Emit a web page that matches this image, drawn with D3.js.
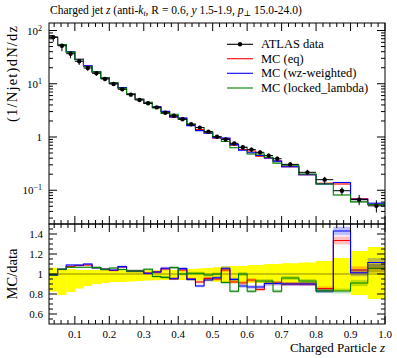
<!DOCTYPE html>
<html><head><meta charset="utf-8">
<script src="https://cdn.jsdelivr.net/npm/d3@7"></script>
<style>body{margin:0;background:#fff} svg text{font-family:"Liberation Serif","DejaVu Serif",serif;fill:#000}</style>
</head><body><svg id="c" width="397" height="358"></svg>
<script>
const zEdges = [0.025,0.05,0.075,0.1,0.125,0.15,0.175,0.2,0.225,0.25,0.275,0.3,0.325,0.35,0.375,0.4,0.425,0.45,0.475,0.5,0.525,0.55,0.575,0.6,0.625,0.65,0.675,0.7,0.75,0.8,0.85,0.9,0.95,1.0];
const dataVals = [75,51.8,36.7,26.4,19.8,15.7,12.3,9.9,7.87,6.24,4.95,4.3,3.6,2.86,2.51,2.15,1.73,1.50,1.26,1.01,0.90,0.76,0.64,0.58,0.515,0.447,0.39,0.306,0.217,0.158,0.098,0.0665,0.051];
const dataErrUp = [0.064,0.05,0.048,0.04,0.04,0.04,0.04,0.038,0.038,0.038,0.038,0.038,0.038,0.038,0.04,0.04,0.05,0.055,0.06,0.068,0.075,0.08,0.08,0.09,0.09,0.1,0.1,0.108,0.115,0.13,0.16,0.23,0.27];
const dataErrDn = [0.175,0.21,0.18,0.145,0.12,0.1,0.09,0.08,0.08,0.075,0.07,0.065,0.062,0.06,0.06,0.06,0.062,0.065,0.07,0.078,0.085,0.088,0.088,0.088,0.09,0.095,0.1,0.11,0.11,0.17,0.17,0.21,0.25];
const ratioEq = [0.99,1.047,1.074,1.085,1.09,1.064,1.047,1.035,1.07,1.03,1.03,1.007,1.02,1.05,0.953,1.04,0.95,0.92,0.956,0.95,1.04,0.92,0.91,0.94,0.845,0.905,0.91,0.9,0.9,0.855,1.335,1.04,1.058];
const ratioWz = [0.99,1.047,1.09,1.09,1.10,1.064,1.047,1.04,1.074,1.03,1.03,1.007,1.02,1.058,0.953,1.054,0.946,0.88,0.94,0.963,1.058,0.946,0.88,0.87,0.87,0.905,0.905,0.9,0.9,0.83,1.43,1.013,1.115];
const ratioLocked = [0.99,1.047,1.068,1.068,1.068,1.064,1.047,1.06,1.045,1.03,1.03,1.047,0.975,0.966,1.064,1.0,1.007,1.007,0.99,1.0,0.915,0.827,1.0,0.827,0.93,0.93,0.827,0.96,0.93,0.83,0.83,0.91,1.058];
const mcRelErr = [0.008,0.008,0.008,0.008,0.008,0.01,0.01,0.01,0.01,0.012,0.012,0.012,0.012,0.014,0.014,0.014,0.015,0.015,0.016,0.016,0.018,0.018,0.02,0.02,0.02,0.022,0.022,0.02,0.022,0.025,0.03,0.035,0.04];
const xTicks = [0.1,0.2,0.3,0.4,0.5,0.6,0.7,0.8,0.9,1.0];
const xTickLabels = ["0.1","0.2","0.3","0.4","0.5","0.6","0.7","0.8","0.9","1.0"];
const yRatioTicks = [0.6,0.8,1,1.2,1.4];
const yRatioLabels = ["0.6","0.8","1","1.2","1.4"];
const seriesNames = ["MC (eq)","MC (wz-weighted)","MC (locked_lambda)"];
const seriesColors = ["#ff0000","#0000ff","#008000"];
const seriesRatios = [ratioEq, ratioWz, ratioLocked];

const L = 49, R = 385, T = 23, MB = 224, RB = 324;
const svg = d3.select("#c");
const x = d3.scaleLinear().domain([0.025, 1.0]).range([L, R]);
const y = d3.scaleLog().domain([Math.pow(10,-1.634), Math.pow(10,2.141)]).range([MB, T]);
const yr = d3.scaleLinear().domain([0.5, 1.5]).range([RB, MB]);

const nb = dataVals.length;
const bins = d3.range(nb).map(i => ({lo: zEdges[i], hi: zEdges[i+1], c: (zEdges[i]+zEdges[i+1])/2}));

const defs = svg.append("defs");
defs.append("clipPath").attr("id","cm").append("rect").attr("x",L).attr("y",T).attr("width",R-L).attr("height",MB-T);
defs.append("clipPath").attr("id","cr").append("rect").attr("x",L).attr("y",MB).attr("width",R-L).attr("height",RB-MB);

function stepPath(vals, ys) {
  let p = "";
  vals.forEach((v,i) => {
    const x0 = x(zEdges[i]), x1 = x(zEdges[i+1]), yy = ys(v);
    p += (i===0 ? "M"+x0+","+yy : "V"+yy) + "H"+x1;
  });
  return p;
}

// ---- main panel
const gm = svg.append("g").attr("clip-path","url(#cm)");
seriesRatios.forEach((rat, s) => {
  const mc = rat.map((r,i) => r*dataVals[i]);
  gm.append("g").selectAll("rect").data(bins).join("rect")
    .attr("x", (b)=>x(b.lo)).attr("width",(b)=>x(b.hi)-x(b.lo))
    .attr("y",(b,i)=>y(mc[i]*(1+mcRelErr[i]))).attr("height",(b,i)=>y(mc[i]*(1-mcRelErr[i]))-y(mc[i]*(1+mcRelErr[i])))
    .attr("fill",seriesColors[s]).attr("opacity",0.25);
  gm.append("path").attr("d",stepPath(mc,y)).attr("fill","none").attr("stroke",seriesColors[s]).attr("stroke-width",1.1);
});
const gd = gm.append("g");
bins.forEach((b,i) => {
  const v = dataVals[i];
  gd.append("line").attr("x1",x(b.lo)).attr("x2",x(b.hi)).attr("y1",y(v)).attr("y2",y(v)).attr("stroke","#000").attr("stroke-width",1);
  gd.append("line").attr("x1",x(b.c)).attr("x2",x(b.c)).attr("y1",y(v*(1+dataErrUp[i]))).attr("y2",y(v*(1-dataErrDn[i]))).attr("stroke","#000").attr("stroke-width",1);
  gd.append("circle").attr("cx",x(b.c)).attr("cy",y(v)).attr("r",2.2).attr("fill","#000");
});

// ---- ratio panel
const gr = svg.append("g").attr("clip-path","url(#cr)");
gr.append("g").selectAll("rect").data(bins).join("rect")
  .attr("x",(b)=>x(b.lo)).attr("width",(b)=>x(b.hi)-x(b.lo)+0.3)
  .attr("y",(b,i)=>yr(1+dataErrUp[i])).attr("height",(b,i)=>yr(1-dataErrDn[i])-yr(1+dataErrUp[i]))
  .attr("fill","#ffff00");
gr.append("line").attr("x1",L).attr("x2",R).attr("y1",yr(1)).attr("y2",yr(1)).attr("stroke","#000").attr("stroke-opacity",0.45).attr("stroke-width",1);
seriesRatios.forEach((rat, s) => {
  gr.append("g").selectAll("rect").data(bins).join("rect")
    .attr("x",(b)=>x(b.lo)).attr("width",(b)=>x(b.hi)-x(b.lo))
    .attr("y",(b,i)=>yr(rat[i]*(1+mcRelErr[i]))).attr("height",(b,i)=>yr(rat[i]*(1-mcRelErr[i]))-yr(rat[i]*(1+mcRelErr[i])))
    .attr("fill",seriesColors[s]).attr("opacity",0.25);
  gr.append("path").attr("d",stepPath(rat,yr)).attr("fill","none").attr("stroke",seriesColors[s]).attr("stroke-width",1.1);
});

// ---- frames and ticks
const ax = svg.append("g").attr("stroke","#000").attr("stroke-width",1).attr("fill","none");
ax.append("rect").attr("x",L).attr("y",T).attr("width",R-L).attr("height",MB-T);
ax.append("rect").attr("x",L).attr("y",MB).attr("width",R-L).attr("height",RB-MB);
const minorX = d3.range(0.04, 1.0001, 0.02).map(v=>+v.toFixed(2)).filter(v => Math.abs(v*10-Math.round(v*10))>1e-6);
function xTickSet(yTop, yBot) {
  xTicks.forEach(t => {
    ax.append("line").attr("x1",x(t)).attr("x2",x(t)).attr("y1",yTop).attr("y2",yTop+8);
    ax.append("line").attr("x1",x(t)).attr("x2",x(t)).attr("y1",yBot).attr("y2",yBot-8);
  });
  minorX.forEach(t => {
    ax.append("line").attr("x1",x(t)).attr("x2",x(t)).attr("y1",yTop).attr("y2",yTop+4);
    ax.append("line").attr("x1",x(t)).attr("x2",x(t)).attr("y1",yBot).attr("y2",yBot-4);
  });
}
xTickSet(T, MB);
xTickSet(MB, RB);
// log y ticks
const yMajor = [0.1, 1, 10, 100];
const yMinor = [];
[0.01,0.1,1,10,100].forEach(d => { for (let k=2;k<=9;k++){ const v=d*k; if (v>y.domain()[0] && v<y.domain()[1]) yMinor.push(v);} });
yMajor.forEach(v => {
  ax.append("line").attr("x1",L).attr("x2",L+8).attr("y1",y(v)).attr("y2",y(v));
  ax.append("line").attr("x1",R).attr("x2",R-8).attr("y1",y(v)).attr("y2",y(v));
});
yMinor.forEach(v => {
  ax.append("line").attr("x1",L).attr("x2",L+4).attr("y1",y(v)).attr("y2",y(v));
  ax.append("line").attr("x1",R).attr("x2",R-4).attr("y1",y(v)).attr("y2",y(v));
});
const rMinor = d3.range(0.55, 1.5, 0.05).map(v=>+v.toFixed(2)).filter(v => Math.abs(v*5-Math.round(v*5))>1e-6);
yRatioTicks.forEach(v => {
  ax.append("line").attr("x1",L).attr("x2",L+8).attr("y1",yr(v)).attr("y2",yr(v));
  ax.append("line").attr("x1",R).attr("x2",R-8).attr("y1",yr(v)).attr("y2",yr(v));
});
rMinor.forEach(v => {
  ax.append("line").attr("x1",L).attr("x2",L+4).attr("y1",yr(v)).attr("y2",yr(v));
  ax.append("line").attr("x1",R).attr("x2",R-4).attr("y1",yr(v)).attr("y2",yr(v));
});

// ---- labels
const fs = 11;
const tl = svg.append("g").attr("font-size", fs);
[[100,"2"],[10,"1"],[0.1,"−1"]].forEach(([v,e]) => {
  const t = tl.append("text").attr("x",L-7).attr("y",y(v)+4).attr("text-anchor","end");
  t.append("tspan").text("10");
  t.append("tspan").attr("dy",-4).attr("font-size",8).text(e);
});
tl.append("text").attr("x",L-7).attr("y",y(1)+4).attr("text-anchor","end").text("1");
yRatioTicks.forEach((v,i) => {
  tl.append("text").attr("x",L-6).attr("y",yr(v)+4).attr("text-anchor","end").text(yRatioLabels[i]);
});
xTicks.forEach((v,i) => {
  tl.append("text").attr("x",x(v)).attr("y",RB+14).attr("text-anchor","middle").text(xTickLabels[i]);
});
// axis labels
const xl = svg.append("text").attr("x",R).attr("y",352).attr("text-anchor","end").attr("font-size",13);
xl.append("tspan").text("Charged Particle ");
xl.append("tspan").attr("font-style","italic").text("z");
svg.append("text").attr("transform",`translate(17,${T+3}) rotate(-90)`).attr("text-anchor","end").attr("font-size",14.5)
  .attr("textLength",96).attr("lengthAdjust","spacing").text("(1/Njet)dN/dz");
svg.append("text").attr("transform",`translate(17,${(MB+RB)/2}) rotate(-90)`).attr("text-anchor","middle").attr("font-size",14.5).text("MC/data");
// title
const tt = svg.append("text").attr("x",L+1).attr("y",14).attr("font-size",11.5);
tt.append("tspan").text("Charged jet ");
tt.append("tspan").attr("font-style","italic").text("z");
tt.append("tspan").text(" (anti-");
tt.append("tspan").attr("font-style","italic").text("k");
tt.append("tspan").attr("font-style","italic").attr("font-size",8).attr("dy",2).text("t");
tt.append("tspan").attr("dy",-2).text(", R = 0.6, ");
tt.append("tspan").attr("font-style","italic").text("y");
tt.append("tspan").text(" 1.5-1.9, ");
tt.append("tspan").attr("font-style","italic").text("p");
tt.append("tspan").attr("font-size",8).attr("dy",2).text("⊥");
tt.append("tspan").attr("dy",-2).text(" 15.0-24.0)");

// legend
const legendLabels = ["ATLAS data"].concat(seriesNames);
const legendColors = ["#000"].concat(seriesColors);
const lg = svg.append("g");
const ly = [44.3, 58.7, 73.3, 88];
legendLabels.forEach((lab,i) => {
  lg.append("line").attr("x1",227).attr("x2",253).attr("y1",ly[i]).attr("y2",ly[i]).attr("stroke",legendColors[i]).attr("stroke-width",1.1);
  if (i===0) lg.append("circle").attr("cx",240).attr("cy",ly[i]).attr("r",2.2).attr("fill","#000");
  lg.append("text").attr("x",261).attr("y",ly[i]+4).attr("font-size",12.5).text(lab);
});
</script></body></html>
